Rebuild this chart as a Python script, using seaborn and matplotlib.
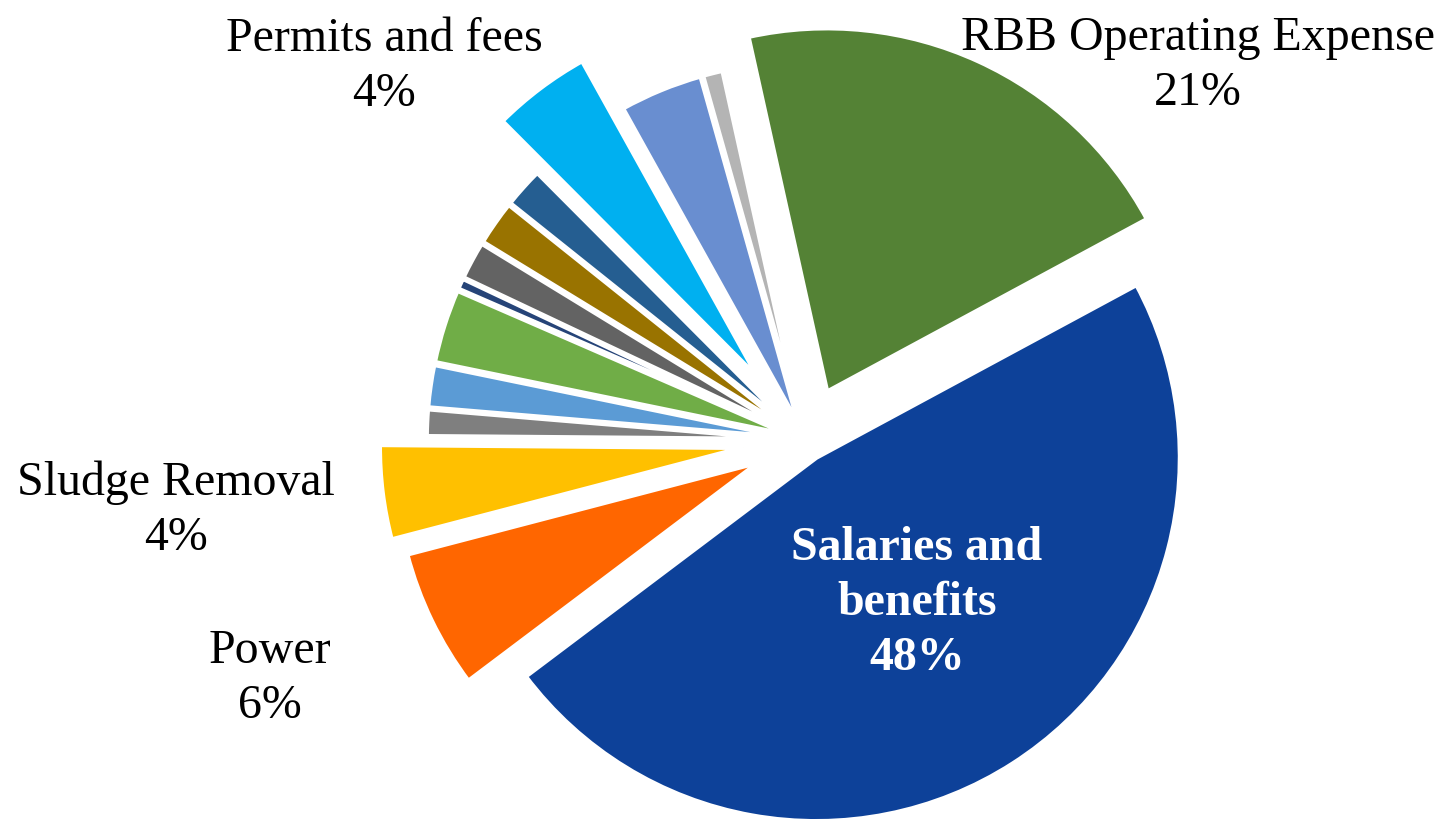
import matplotlib
matplotlib.use("Agg")
import matplotlib.pyplot as plt
import seaborn as sns

# Budget shares (percent), in clockwise order starting with RBB
categories = [
    "RBB Operating Expense", "Salaries and benefits", "Power", "Sludge Removal",
    "Chemicals", "Maintenance", "Contract services", "Insurance",
    "Utilities", "Supplies", "Laboratory", "Permits and fees",
    "Administration", "Other",
]
shares = [20.6, 47.6, 6.2, 4.2, 1.2, 1.9, 3.3, 0.5, 1.7, 2.0, 1.8, 4.4, 3.7, 0.9]
colors = [
    "#548235", "#0D4199", "#FF6600", "#FFC000", "#7F7F7F", "#5B9BD5", "#70AD47",
    "#264478", "#636363", "#997300", "#255E91", "#00B0F0", "#698ED0", "#B4B4B4",
]
explode = [0.145, 0.057, 0.14, 0.17, 0.04, 0.04, 0.04, 0.04, 0.04, 0.04, 0.04,
           0.21, 0.04, 0.04]

# Categories that carry a label: (first-line text, baseline pixel y, centre pixel x, style)
labelled = {
    "Permits and fees": (["Permits and fees"], 51, 384, "normal"),
    "RBB Operating Expense": (["RBB Operating Expense"], 50, 1198, "normal"),
    "Sludge Removal": (["Sludge Removal"], 495, 176, "normal"),
    "Power": (["Power"], 663, 270, "normal"),
    "Salaries and benefits": (["Salaries and", "benefits"], 560, 917, "bold"),
}

sns.set_theme(style="white")
plt.rcParams["font.family"] = ["Liberation Serif", "DejaVu Serif"]

W, H = 1449, 819
fig = plt.figure(figsize=(W / 100, H / 100), dpi=100)
ax = fig.add_axes([0, 0, 1, 1])

# Pie centre and radius in pixels
cx, cy, rpx = 805, 440, 364

ax.pie(
    shares,
    colors=colors,
    explode=explode,
    startangle=102.5,
    counterclock=False,
    radius=1.0,
    wedgeprops=dict(edgecolor="white", linewidth=3.5, antialiased=True),
)
ax.set_aspect("equal")
ax.set_xlim(-cx / rpx, (W - cx) / rpx)
ax.set_ylim(-(H - cy) / rpx, cy / rpx)
ax.axis("off")

total = sum(shares)
step = 55
for name, (lines, base_y, x_c, weight) in labelled.items():
    pct = shares[categories.index(name)] / total * 100
    all_lines = lines + [f"{pct:.0f}%"]
    color = "white" if weight == "bold" else "black"
    for i, line in enumerate(all_lines):
        fig.text(
            x_c / W, 1 - (base_y + i * step) / H, line,
            ha="center", va="baseline", fontsize=34.5,
            fontweight=weight, color=color,
        )

fig.savefig("out.png", dpi=100, facecolor="white")
